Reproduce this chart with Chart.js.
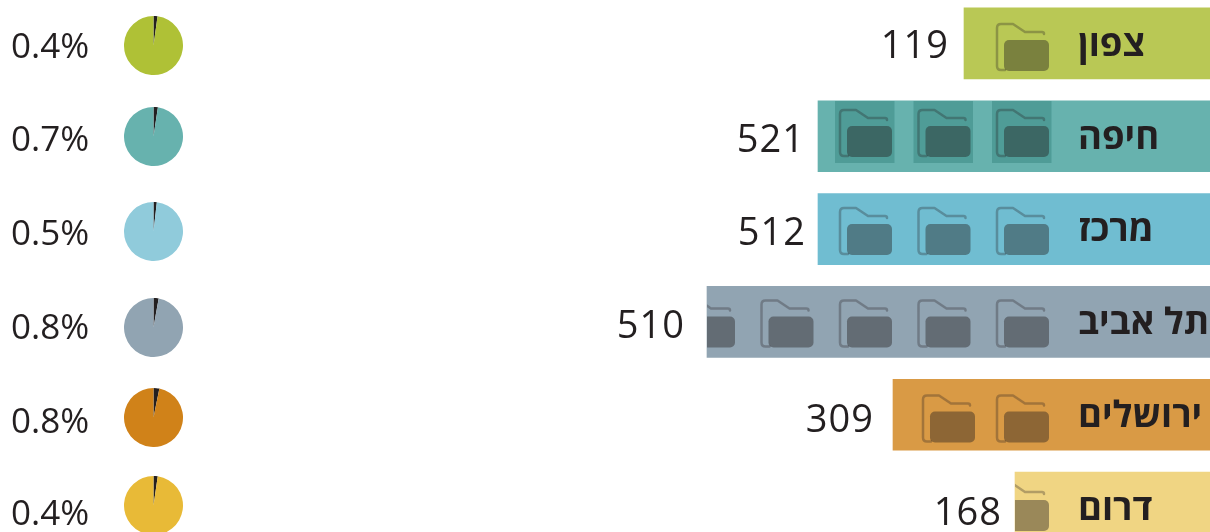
<!DOCTYPE html>
<html lang="he">
<head>
  <meta charset="UTF-8" />
  <title>מחוזות</title>
  <script src="https://cdn.jsdelivr.net/npm/chart.js"></script>
  <style>
    html, body { margin: 0; padding: 0; background: #fff; overflow: hidden; width: 1210px; height: 532px; }
    canvas { position: absolute; }
    #barChart { left: 0; top: -3px; }
  </style>
</head>
<body>
  <canvas id="barChart" width="1210" height="557"></canvas>

  <script>
    // data
    const regions = ["צפון", "חיפה", "מרכז", "תל אביב", "ירושלים", "דרום"];
    const counts = [119, 521, 512, 510, 309, 168];
    const barLengths = [246, 392, 392, 503, 317, 195];
    const iconCounts = [1, 3, 3, 5, 2, 1];
    const percentLabels = ["0.4%", "0.7%", "0.5%", "0.8%", "0.8%", "0.4%"];
    const sliceShares = [2.2, 2.4, 1.8, 2.8, 3.2, 2.3];

    const barColors = ["#B9C855", "#67B2AE", "#70BDD1", "#91A4B2", "#D99A45", "#F0D583"];
    const pieColors = ["#AFC136", "#67B2AE", "#90CBDB", "#91A4B2", "#D08219", "#E8BA37"];
    const ink = "#231F20";
    const font = "'Open Sans', sans-serif";

    // hand placement, the rows in the original are not evenly spaced
    const iconY = [47, 133, 231, 323.5, 418.5, 507];
    const iconStep = [78.5, 78.5, 78.5, 78.5, 74, 78.5];
    const countGap = [15, 13, 12, 22, 19, 13];
    const countY = [47, 141, 234, 327, 421, 514];
    const pieY = [45, 136, 231, 327, 417, 505];
    const percentY = [48, 141, 235, 329, 423, 515];

    function drawFolder(ctx, x, y) {
      // x = left of icon, y = vertical centre
      ctx.strokeStyle = "rgba(35,31,32,0.3)";
      ctx.lineWidth = 2.5;
      ctx.lineJoin = "round";
      ctx.lineCap = "round";
      ctx.beginPath();
      ctx.moveTo(x + 9, y + 23);
      ctx.lineTo(x + 5, y + 23);
      ctx.quadraticCurveTo(x + 1, y + 23, x + 1, y + 19);
      ctx.lineTo(x + 1, y - 19);
      ctx.quadraticCurveTo(x + 1, y - 23, x + 5, y - 23);
      ctx.lineTo(x + 17, y - 23);
      ctx.lineTo(x + 29, y - 15);
      ctx.lineTo(x + 46, y - 15);
      ctx.quadraticCurveTo(x + 48, y - 15, x + 48, y - 13);
      ctx.stroke();

      ctx.fillStyle = "rgba(35,31,32,0.42)";
      ctx.beginPath();
      ctx.roundRect(x + 8, y - 7, 45, 31, 5);
      ctx.fill();
    }

    const rowDecor = {
      id: "rowDecor",
      afterDatasetsDraw(chart) {
        const { ctx } = chart;
        const bars = chart.getDatasetMeta(0).data;
        const top = chart.canvas.offsetTop;

        bars.forEach((bar, i) => {
          const left = bar.x;
          const right = bar.base;
          const h = bar.height;

          ctx.save();
          ctx.beginPath();
          ctx.rect(left, bar.y - h / 2, right - left, h);
          ctx.clip();
          for (let n = 0; n < iconCounts[i]; n++) {
            const ix = right - 214 - iconStep[i] * n;
            const iy = iconY[i] - top;
            if (i === 1) {
              // haifa row has darker boxes behind the folders
              ctx.fillStyle = "#4F9C97";
              ctx.fillRect(ix - 4, iy - 32, 59.5, 62);
            }
            drawFolder(ctx, ix, iy);
          }
          ctx.restore();

          ctx.fillStyle = ink;
          ctx.textBaseline = "middle";

          ctx.textAlign = "left";
          ctx.font = "bold 36.5px " + font;
          ctx.fillText(regions[i], 1078, bar.y + 2);

          ctx.textAlign = "right";
          ctx.font = "38px " + font;
          ctx.letterSpacing = "1px";
          ctx.fillText(String(counts[i]), left - countGap[i], countY[i] - top);
          ctx.letterSpacing = "0px";

          ctx.textAlign = "left";
          ctx.font = "35px " + font;
          ctx.fillText(percentLabels[i], 11, percentY[i] - top);
        });
      }
    };

    new Chart(document.getElementById("barChart"), {
      type: "bar",
      data: {
        labels: regions,
        datasets: [{
          data: barLengths,
          backgroundColor: barColors,
          borderWidth: 0,
          barThickness: 71
        }]
      },
      options: {
        indexAxis: "y",
        responsive: false,
        animation: false,
        layout: { padding: 0 },
        plugins: { legend: { display: false }, tooltip: { enabled: false } },
        scales: {
          x: { display: false, reverse: true, min: 0, max: 1210 },
          y: { display: false }
        }
      },
      plugins: [rowDecor]
    });

    // one small pie per row
    regions.forEach((name, i) => {
      const canvas = document.createElement("canvas");
      canvas.width = 59;
      canvas.height = 59;
      canvas.style.left = "124px";
      canvas.style.top = (pieY[i] - 29.5) + "px";
      document.body.appendChild(canvas);

      new Chart(canvas, {
        type: "pie",
        data: {
          labels: [name, "other"],
          datasets: [{
            data: [sliceShares[i], 100 - sliceShares[i]],
            backgroundColor: [ink, pieColors[i]],
            borderWidth: 0
          }]
        },
        options: {
          responsive: false,
          animation: false,
          layout: { padding: 0 },
          plugins: { legend: { display: false }, tooltip: { enabled: false } }
        }
      });
    });
  </script>
</body>
</html>
